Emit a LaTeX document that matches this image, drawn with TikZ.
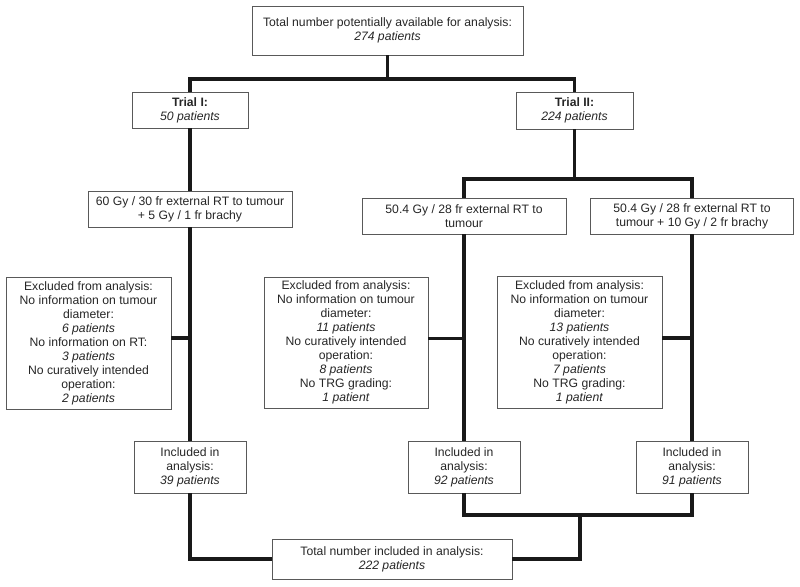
\documentclass[tikz,border=0pt]{standalone}
\usepackage{fontspec}
\setmainfont{Liberation Sans}
\begin{document}
\begin{tikzpicture}[x=1pt,y=-1pt,
  box/.style={draw=black!65,line width=0.8pt,text=black!85,align=center,inner sep=1pt,
    font=\fontsize{12.2}{14}\selectfont},
  link/.style={line width=3.2pt,draw=black!90}]
\useasboundingbox (0,0) rectangle (800,586);
% boxes, centres and sizes in pixels of the figure
\node[box,minimum width=271,minimum height=49] (top) at (387.5,30.5) {Total number potentially available for analysis:\\ \textit{274 patients}};
\node[box,minimum width=116,minimum height=36] (trialI) at (190,110) {\textbf{Trial I:}\\ \textit{50 patients}};
\node[box,minimum width=117,minimum height=37] (trialII) at (574.5,110.5) {\textbf{Trial II:}\\ \textit{224 patients}};
\node[box,minimum width=204,minimum height=36] (armI) at (190,209) {60 Gy / 30 fr external RT to tumour\\ + 5 Gy / 1 fr brachy};
\node[box,minimum width=204,minimum height=36] (armIIa) at (464,216) {50.4 Gy / 28 fr external RT to\\ tumour};
\node[box,minimum width=203,minimum height=36] (armIIb) at (692,216) {50.4 Gy / 28 fr external RT to\\ tumour + 10 Gy / 2 fr brachy};
\node[box,minimum width=165,minimum height=132] (exclI) at (88.5,343) {Excluded from analysis:\\ No information on tumour\\ diameter:\\ \textit{6 patients}\\ No information on RT:\\ \textit{3 patients}\\ No curatively intended\\ operation:\\ \textit{2 patients}};
\node[box,minimum width=164,minimum height=131] (exclIIa) at (346,342.5) {Excluded from analysis:\\ No information on tumour\\ diameter:\\ \textit{11 patients}\\ No curatively intended\\ operation:\\ \textit{8 patients}\\ No TRG grading:\\ \textit{1 patient}};
\node[box,minimum width=165,minimum height=132] (exclIIb) at (579.5,342) {Excluded from analysis:\\ No information on tumour\\ diameter:\\ \textit{13 patients}\\ No curatively intended\\ operation:\\ \textit{7 patients}\\ No TRG grading:\\ \textit{1 patient}};
\node[box,minimum width=112,minimum height=52] (inclI) at (190,467) {Included in\\ analysis:\\ \textit{39 patients}};
\node[box,minimum width=112,minimum height=52] (inclIIa) at (464,467) {Included in\\ analysis:\\ \textit{92 patients}};
\node[box,minimum width=112,minimum height=52] (inclIIb) at (692,467) {Included in\\ analysis:\\ \textit{91 patients}};
\node[box,minimum width=240,minimum height=40] (total) at (392,559) {Total number included in analysis:\\ \textit{222 patients}};
% junction points
\coordinate (splitA) at (387.5,79);
\coordinate (splitB) at (574.5,179);
\coordinate (joinB) at (580,515);
% connectors
\draw[link] (top.south) -- (splitA);
\draw[link] (trialI.north) |- (splitA) -| (trialII.north);
\draw[link] (trialI.south) -- (armI.north);
\draw[link] (armI.south) -- (inclI.north);
\draw[link] ([yshift=5pt]exclI.east) -- ([yshift=5pt]exclI.east -| armI.south);
\draw[link] (trialII.south) -- (splitB);
\draw[link] (armIIa.north) |- (splitB) -| (armIIb.north);
\draw[link] (armIIa.south) -- (inclIIa.north);
\draw[link] (armIIb.south) -- (inclIIb.north);
\draw[link] ([yshift=4pt]exclIIa.east) -- ([yshift=4pt]exclIIa.east -| armIIa.south);
\draw[link] ([yshift=4pt]exclIIb.east) -- ([yshift=4pt]exclIIb.east -| armIIb.south);
\draw[link] (inclI.south) |- (total.west);
\draw[link] (inclIIa.south) |- (joinB) -| (inclIIb.south);
\draw[link] (joinB) |- (total.east);
\end{tikzpicture}
\end{document}
